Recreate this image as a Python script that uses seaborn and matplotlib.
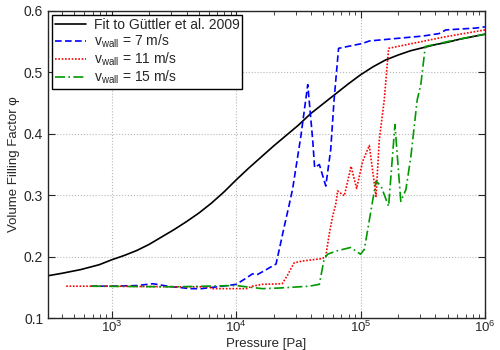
import numpy as np
import pandas as pd
import seaborn as sns
import matplotlib
matplotlib.use('Agg')
import matplotlib.pyplot as plt

# Fit curve
fit_p = [307, 398, 562, 794, 1000, 1259, 1585, 1995, 2512, 3162, 3981, 5012,
         6310, 7943, 10000, 12589, 15849, 19953, 25119, 31623, 39811, 50119,
         63096, 79433, 100000, 125893, 158489, 199526, 251189, 316228, 398107,
         501187, 630957, 794328, 1000000]
fit_phi = [0.169, 0.173, 0.179, 0.187, 0.195, 0.202, 0.210, 0.220, 0.232,
           0.244, 0.257, 0.271, 0.287, 0.305, 0.325, 0.344, 0.362, 0.380,
           0.397, 0.414, 0.433, 0.449, 0.465, 0.481, 0.496, 0.509, 0.520,
           0.528, 0.535, 0.540, 0.545, 0.549, 0.554, 0.558, 0.562]

# v_wall = 7 m/s
p7 = [680, 1000, 1580, 2140, 2820, 4270, 5250, 7760, 10000, 12000, 13500,
      14800, 16800, 18500, 20900, 22200, 24400, 26700, 28400, 33100, 37600,
      41200, 42700, 46600, 52500, 57500, 61200, 66500, 103800, 117500,
      192300, 316000, 427000, 485000, 845000, 1000000]
phi7 = [0.152, 0.152, 0.153, 0.156, 0.152, 0.148, 0.148, 0.152, 0.155, 0.165,
        0.172, 0.171, 0.177, 0.182, 0.188, 0.212, 0.250, 0.285, 0.310, 0.396,
        0.480, 0.390, 0.345, 0.350, 0.315, 0.374, 0.455, 0.539, 0.547, 0.551,
        0.555, 0.559, 0.563, 0.569, 0.572, 0.574]

# v_wall = 11 m/s
p11 = [430, 1000, 3160, 6000, 6460, 12000, 13500, 16200, 23400, 25700,
       29200, 34200, 49500, 52500, 56200, 59600, 63100, 65300, 74000, 83800,
       92900, 103800, 117500, 133000, 141300, 154900, 167900, 261800, 485000,
       1000000]
phi11 = [0.152, 0.152, 0.151, 0.151, 0.148, 0.148, 0.152, 0.155, 0.156, 0.169,
         0.190, 0.193, 0.197, 0.201, 0.239, 0.266, 0.285, 0.307, 0.299, 0.347,
         0.311, 0.355, 0.381, 0.298, 0.390, 0.455, 0.539, 0.547, 0.558, 0.569]

# v_wall = 15 m/s
p15 = [680, 3160, 10000, 16200, 22100, 38700, 46600, 50900, 54300, 63100,
       83200, 100000, 107200, 133000, 145900, 167900, 188800, 210400, 231200,
       253600, 285000, 304800, 331100, 583400, 1000000]
phi15 = [0.152, 0.151, 0.153, 0.148, 0.149, 0.152, 0.155, 0.196, 0.204, 0.209,
         0.215, 0.204, 0.212, 0.323, 0.315, 0.282, 0.415, 0.290, 0.309,
         0.363, 0.455, 0.480, 0.542, 0.553, 0.562]

sns.set_style('ticks')
plt.rcParams['font.family'] = ['Liberation Sans', 'DejaVu Sans']
plt.rcParams['mathtext.fontset'] = 'custom'
plt.rcParams['mathtext.rm'] = 'Liberation Sans'
plt.rcParams['mathtext.it'] = 'Liberation Sans'
plt.rcParams['mathtext.default'] = 'regular'

fig = plt.figure(figsize=(5, 3.5), dpi=100)
ax = fig.add_axes([0.096, 0.091, 0.874, 0.878])

sns.lineplot(x=fit_p, y=fit_phi, ax=ax, color='black', lw=1.2,
             label='Fit to Güttler et al. 2009')
sns.lineplot(x=p7, y=phi7, ax=ax, color='#0000ff', lw=1.2, linestyle=(0, (4, 2)),
             label=r'$v_{wall}$ = 7 m/s')
sns.lineplot(x=p11, y=phi11, ax=ax, color='#ff0000', lw=1.2, linestyle=(0, (1, 1)),
             label=r'$v_{wall}$ = 11 m/s')
sns.lineplot(x=p15, y=phi15, ax=ax, color='#009900', lw=1.2,
             linestyle=(0, (6, 2, 1, 2)), label=r'$v_{wall}$ = 15 m/s')

ax.set_xscale('log')
ax.set_xlim(307, 1e6)
ax.set_ylim(0.1, 0.6)
ax.set_yticks([0.1, 0.2, 0.3, 0.4, 0.5, 0.6])
ax.set_xticks([1e3, 1e4, 1e5, 1e6])
ax.grid(True, which='major', color='#b8b8b8', linestyle=':', lw=0.8)
ax.tick_params(which='both', direction='in', top=True, right=True, labelsize=10)
ax.tick_params(axis='x', pad=1.5, labelsize=9.5)
ax.tick_params(which='major', length=5)
ax.tick_params(which='minor', length=3)
ax.tick_params(axis='y', which='minor', left=False, right=False)
for s in ax.spines.values():
    s.set_linewidth(1.0)
ax.set_xlabel('Pressure [Pa]', fontsize=9.5)
ax.xaxis.set_label_coords(0.5, -0.066)
ax.set_ylabel('Volume Filling Factor φ', fontsize=9.5, labelpad=3)

leg = ax.legend(loc='upper left', fontsize=10, frameon=True, fancybox=False,
                borderaxespad=0.3, handlelength=2.2, handletextpad=0.6,
                labelspacing=0.05, borderpad=0.2)
leg.get_frame().set_edgecolor('black')
leg.get_frame().set_linewidth(1.0)
leg.get_frame().set_alpha(1)

fig.savefig('out.png', dpi=100)
